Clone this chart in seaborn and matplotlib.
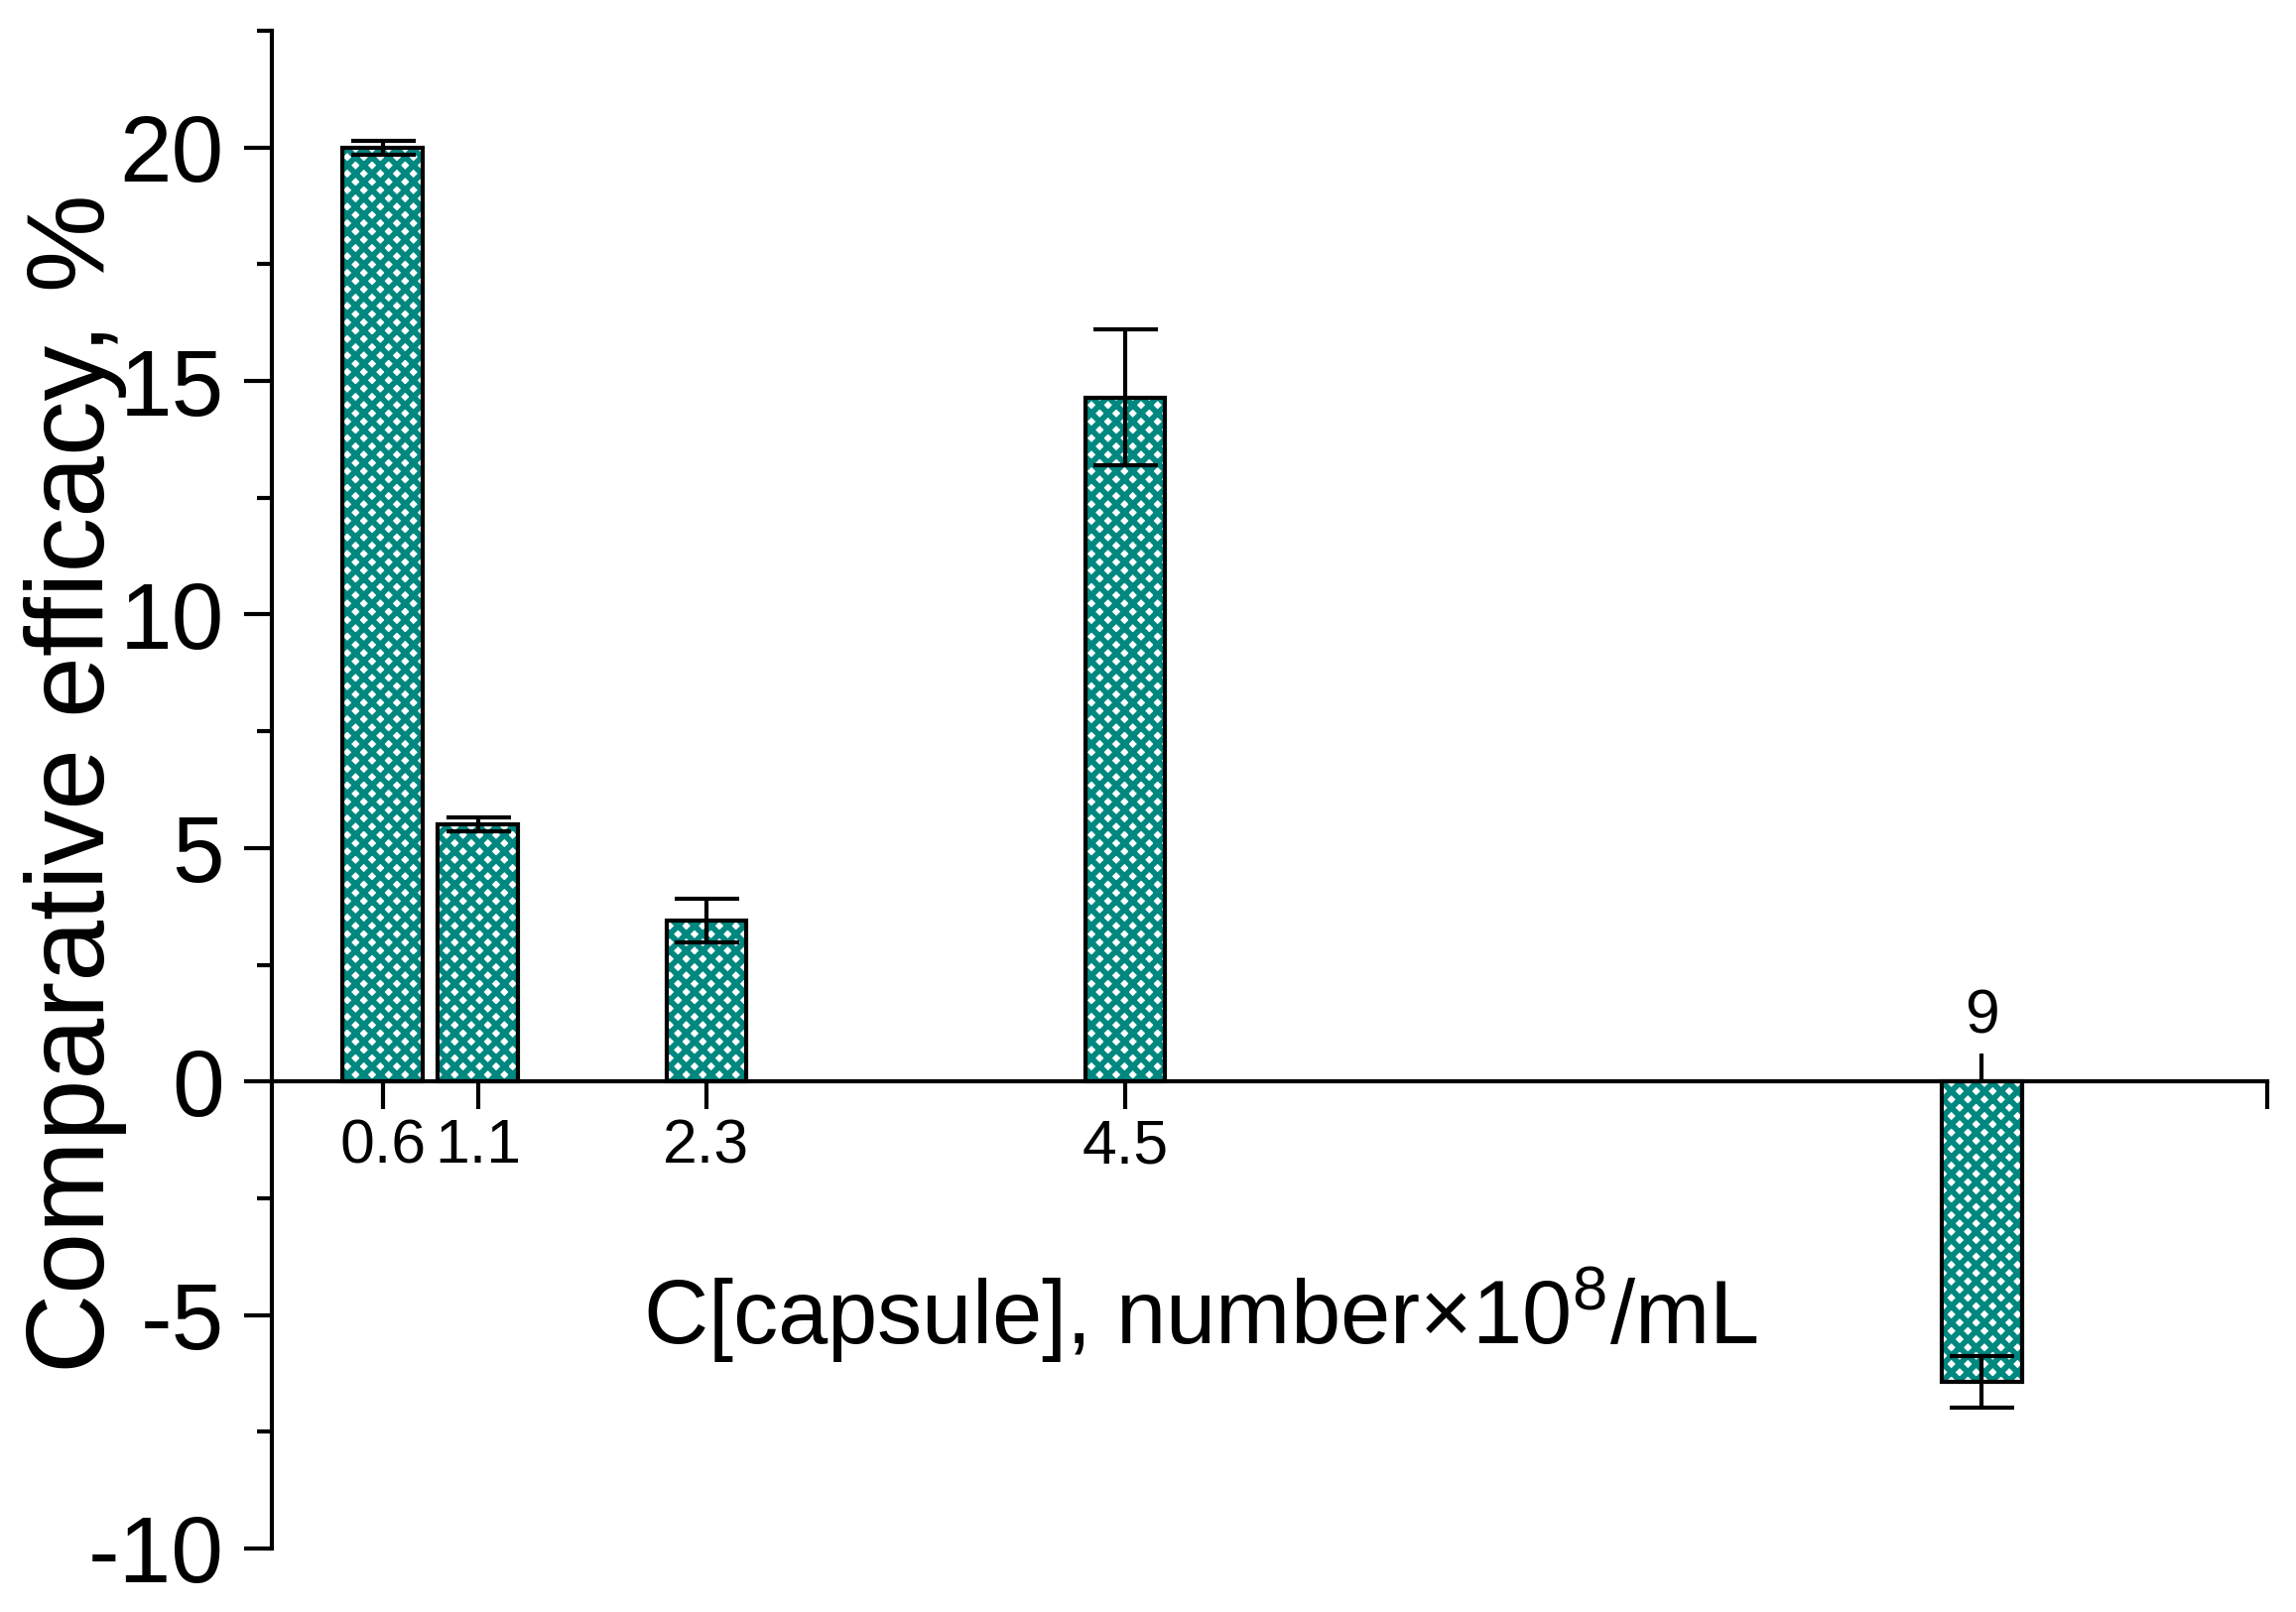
import matplotlib
matplotlib.use("Agg")
import numpy as np
import pandas as pd
import seaborn as sns
import matplotlib.pyplot as plt
from matplotlib.colors import to_rgba
from matplotlib.ticker import FixedLocator, MultipleLocator

# ---- data ----
concentration = [0.6, 1.1, 2.3, 4.5, 9.0]
tick_labels = ["0.6", "1.1", "2.3", "4.5", "9"]
efficacy = [20.0, 5.5, 3.45, 14.65, -6.43]
efficacy_err = [0.15, 0.15, 0.47, 1.45, 0.56]

TEAL = "#008880"
LW = 3.0
HATCH_LW = 4.2

sns.set_theme(style="ticks", rc={
    "axes.edgecolor": "black", "xtick.color": "black", "ytick.color": "black",
    "text.color": "black", "axes.labelcolor": "black",
})
plt.rcParams["font.family"] = ["Liberation Sans", "DejaVu Sans"]
plt.rcParams["axes.unicode_minus"] = False
plt.rcParams["hatch.linewidth"] = HATCH_LW
plt.rcParams["mathtext.fontset"] = "custom"
plt.rcParams["mathtext.rm"] = "Liberation Sans"
plt.rcParams["mathtext.it"] = "Liberation Sans"
plt.rcParams["mathtext.default"] = "regular"

fig = plt.figure(figsize=(23.14, 16.25), dpi=100)
ax = fig.add_axes([0.1186, 0.0394, 0.8689, 0.9415])

df = pd.DataFrame({"conc": concentration, "eff": efficacy})
sns.barplot(data=df, x="conc", y="eff", native_scale=True, color="white",
            saturation=1, width=0.84, errorbar=None, edgecolor="black",
            linewidth=LW, ax=ax)
hc = to_rgba(TEAL)
for p in ax.patches:
    p.set_hatch("xx")
    if hasattr(p, "set_hatchcolor"):
        p.set_hatchcolor(hc)
    else:
        p._hatch_color = hc
    if hasattr(p, "set_hatch_linewidth"):
        p.set_hatch_linewidth(HATCH_LW)
    else:
        p._hatch_linewidth = HATCH_LW

ax.errorbar(concentration, efficacy, yerr=efficacy_err, fmt="none",
            ecolor="black", elinewidth=LW, capsize=23.4, capthick=LW, zorder=3)

ax.set_xlim(0.02, 10.5)
ax.set_ylim(-10, 22.5)

ax.spines["right"].set_visible(False)
ax.spines["top"].set_position(("data", 0))
ax.spines["top"].set_visible(False)
ax.spines["bottom"].set_position(("data", 0))
ax.spines["bottom"].set_linewidth(LW)
ax.spines["left"].set_linewidth(LW)

ax.set_xticks(concentration)
ax.set_xticklabels(tick_labels)
ax.xaxis.set_minor_locator(FixedLocator([10.5]))
ax.tick_params(axis="x", which="both", direction="out", length=20, width=LW,
               labelsize=45, pad=6, top=True, labeltop=True,
               bottom=True, labelbottom=True)
ax.tick_params(axis="x", which="minor", top=False)

ax.yaxis.set_major_locator(MultipleLocator(5))
ax.yaxis.set_minor_locator(MultipleLocator(2.5))
ax.tick_params(axis="y", which="major", direction="out", length=20, width=LW,
               labelsize=68, pad=15)
ax.tick_params(axis="y", which="minor", direction="out", length=11, width=LW)

for i, t in enumerate(ax.xaxis.get_major_ticks()):
    if efficacy[i] < 0:
        t.tick1line.set_visible(False)
        t.label1.set_visible(False)
    else:
        t.tick2line.set_visible(False)
        t.label2.set_visible(False)

ax.set_xlabel("C[capsule], number×10$^{8}$/mL", fontsize=65)
ax.xaxis.set_label_coords(0.465, 0.1346)
ax.xaxis.label.set_va("baseline")

ax.set_ylabel("Comparative efficacy, %", fontsize=80)
ax.yaxis.set_label_coords(-0.0729, 0.504)

fig.savefig("out.png", dpi=100, facecolor="white")
